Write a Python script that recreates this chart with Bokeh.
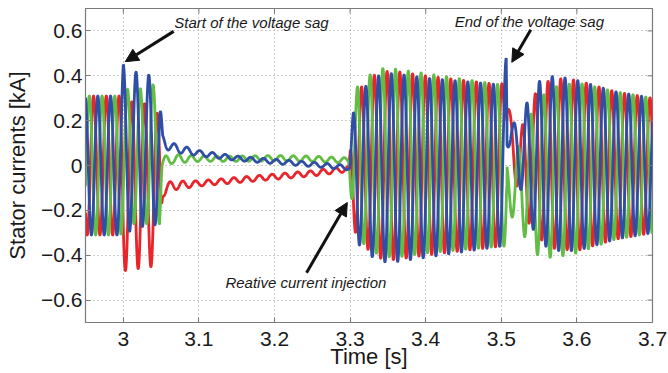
import numpy as np
from bokeh.plotting import figure
from bokeh.models import (FixedTicker, CustomJSTickFormatter, Arrow,
                          NormalHead, Label, ColumnDataSource)
from bokeh.embed import file_html
from bokeh.resources import INLINE

# ---------------- data ----------------
freq_hz = 59.3                       # grid frequency seen in the picture
seg_start = [2.95, 3.30, 3.5075]     # segments with their own phase reference
seg_blue_peak = [3.000, 3.3208, 3.5337]  # time of a blue-phase peak in each segment

t_knots = [2.950, 2.997, 3.000, 3.020, 3.040, 3.048, 3.052, 3.065, 3.100, 3.150,
           3.200, 3.250, 3.2985, 3.301, 3.304, 3.307, 3.310, 3.320, 3.330, 3.345,
           3.360, 3.400, 3.450, 3.500, 3.5065, 3.5075, 3.5175, 3.525, 3.535, 3.550,
           3.570, 3.600, 3.650, 3.700]

blue_amp = [0.31, 0.31, 0.38, 0.34, 0.34, 0.27, 0.03, 0.02, 0.012, 0.010,
            0.010, 0.010, 0.010, 0.14, 0.24, 0.30, 0.34, 0.36, 0.40, 0.42,
            0.42, 0.40, 0.38, 0.36, 0.37, 0.05, 0.08, 0.15, 0.26, 0.36,
            0.39, 0.38, 0.33, 0.30]
blue_off = [0.0, 0.0, 0.07, 0.07, 0.06, 0.05, 0.11, 0.08, 0.055, 0.032,
            0.018, 0.005, -0.01, -0.01, -0.01, -0.01, -0.01, -0.01, -0.01, -0.01,
            -0.01, -0.01, -0.005, 0.0, 0.11, 0.14, 0.11, 0.05, 0.03, 0.015,
            0.01, 0.0, 0.0, 0.0]

green_amp = [0.31, 0.31, 0.30, 0.30, 0.31, 0.31, 0.03, 0.02, 0.012, 0.012,
             0.012, 0.012, 0.012, 0.14, 0.24, 0.30, 0.34, 0.37, 0.40, 0.42,
             0.42, 0.40, 0.38, 0.36, 0.33, 0.10, 0.155, 0.20, 0.265, 0.355,
             0.38, 0.38, 0.33, 0.30]
green_off = [0.0, 0.0, 0.04, 0.04, 0.05, 0.05, 0.01, 0.03, 0.03, 0.03,
             0.033, 0.03, 0.022, 0.02, 0.015, 0.015, 0.015, 0.015, 0.015, 0.015,
             0.01, 0.01, 0.005, 0.0, -0.03, -0.08, -0.10, -0.10, -0.065, -0.055,
             -0.03, -0.01, 0.0, 0.0]

red_amp = [0.31, 0.31, 0.38, 0.37, 0.36, 0.30, 0.03, 0.02, 0.012, 0.012,
           0.012, 0.012, 0.012, 0.14, 0.24, 0.30, 0.34, 0.36, 0.40, 0.42,
           0.42, 0.40, 0.38, 0.36, 0.10, 0.05, 0.10, 0.16, 0.25, 0.34,
           0.38, 0.38, 0.33, 0.30]
red_off = [0.0, 0.0, -0.09, -0.09, -0.09, -0.09, -0.11, -0.09, -0.08, -0.065,
           -0.05, -0.035, -0.015, -0.01, 0.0, 0.0, 0.0, 0.0, 0.0, 0.0,
           0.0, 0.0, 0.0, 0.0, 0.30, 0.24, 0.05, -0.01, 0.0, 0.015,
           0.01, 0.0, 0.0, 0.0]

x_ticks = [3.0, 3.1, 3.2, 3.3, 3.4, 3.5, 3.6, 3.7]
y_ticks = [-0.6, -0.4, -0.2, 0.0, 0.2, 0.4, 0.6]
x_label = "Time [s]"
y_label = "Stator currents [kA]"

notes = ["Start of the voltage sag", "End of the voltage sag", "Reative current injection"]
note_x = [3.0675, 3.4384, 3.1351]
note_y = [0.638, 0.643, -0.523]
arrow_x0 = [3.0666, 3.5390, 3.2424]
arrow_y0 = [0.598, 0.605, -0.478]
arrow_x1 = [3.0026, 3.5139, 3.2963]
arrow_y1 = [0.463, 0.460, -0.165]

# ---------------- waveforms ----------------
X0, X1, Y0, Y1 = 2.95, 3.70, -0.7, 0.7
t = np.linspace(X0, X1, 9000)
seg = np.searchsorted(np.array(seg_start), t, side="right") - 1
ref = np.array(seg_blue_peak)[seg]
theta = 2 * np.pi * freq_hz * (t - ref)

def phase(amp, off, shift):
    return np.interp(t, t_knots, amp) * np.cos(theta - shift) + np.interp(t, t_knots, off)

i_blue = phase(blue_amp, blue_off, 0.0)
i_green = phase(green_amp, green_off, 2 * np.pi / 3)
i_red = phase(red_amp, red_off, 4 * np.pi / 3)

src = ColumnDataSource(dict(t=t, blue=i_blue, green=i_green, red=i_red))

# ---------------- figure ----------------
FONT = "Liberation Sans"
GRAY = "#7a7a7a"
TXT = "#1a1a1a"

p = figure(width=668, height=373, x_range=(X0, X1), y_range=(Y0, Y1),
           output_backend="svg", toolbar_location=None,
           min_border_left=85, min_border_right=16, min_border_top=8, min_border_bottom=51)
p.background_fill_color = "white"
p.border_fill_color = "white"
p.outline_line_color = GRAY
p.outline_line_width = 1.2

p.line("t", "red", source=src, line_color="#e8252a", line_width=2.8)
p.line("t", "green", source=src, line_color="#62bd45", line_width=2.8)
p.line("t", "blue", source=src, line_color="#2f4ea6", line_width=2.8)

xfmt = CustomJSTickFormatter(code="""
    if (Math.abs(tick - 3) < 1e-9) return '3';
    return tick.toFixed(1);
""")
yfmt = CustomJSTickFormatter(code="""
    if (Math.abs(tick) < 1e-9) return '0';
    if (tick < 0) return '\u2212' + Math.abs(tick).toFixed(1);
    return tick.toFixed(1);
""")

for ax in (p.xaxis[0], p.yaxis[0]):
    ax.major_tick_in = 5
    ax.major_tick_out = 0
    ax.minor_tick_line_color = None
    ax.axis_line_color = GRAY
    ax.major_tick_line_color = GRAY
    ax.major_label_text_font = FONT
    ax.major_label_text_font_size = "21px"
    ax.major_label_text_color = TXT
    ax.axis_label_text_font = FONT
    ax.axis_label_text_font_size = "22px"
    ax.axis_label_text_font_style = "normal"
    ax.axis_label_text_color = TXT

p.xaxis.ticker = FixedTicker(ticks=x_ticks)
p.yaxis.ticker = FixedTicker(ticks=y_ticks)
p.xaxis.formatter = xfmt
p.yaxis.formatter = yfmt
p.xaxis.axis_label = x_label
p.yaxis.axis_label = y_label
p.xaxis.major_label_standoff = 9
p.xaxis.axis_label_standoff = -5
p.yaxis.major_label_standoff = 3
p.yaxis.axis_label_standoff = 8

# inward tick marks on the top and right edges of the frame
p.scatter(x=x_ticks, y=[Y1] * len(x_ticks), marker="dash", angle=np.pi / 2,
          size=10, line_color=GRAY, line_width=1)
p.scatter(x=[X1] * len(y_ticks), y=y_ticks, marker="dash",
          size=10, line_color=GRAY, line_width=1)

p.xgrid.ticker = FixedTicker(ticks=x_ticks)
p.ygrid.ticker = FixedTicker(ticks=y_ticks)
p.grid.grid_line_color = "#9a9a9a"
p.grid.grid_line_dash = "1 3"
p.grid.grid_line_width = 1

for txt, x, y in zip(notes, note_x, note_y):
    p.add_layout(Label(x=x, y=y, text=txt, text_font=FONT, text_font_size="15px",
                       text_font_style="italic", text_baseline="middle",
                       text_align="left", text_color=TXT))

for x0, y0, x1, y1 in zip(arrow_x0, arrow_y0, arrow_x1, arrow_y1):
    p.add_layout(Arrow(x_start=x0, y_start=y0, x_end=x1, y_end=y1,
                       line_width=3, line_color="#111111",
                       end=NormalHead(size=13, fill_color="#111111", line_color="#111111")))

open("out.html", "w").write(file_html(p, INLINE))
